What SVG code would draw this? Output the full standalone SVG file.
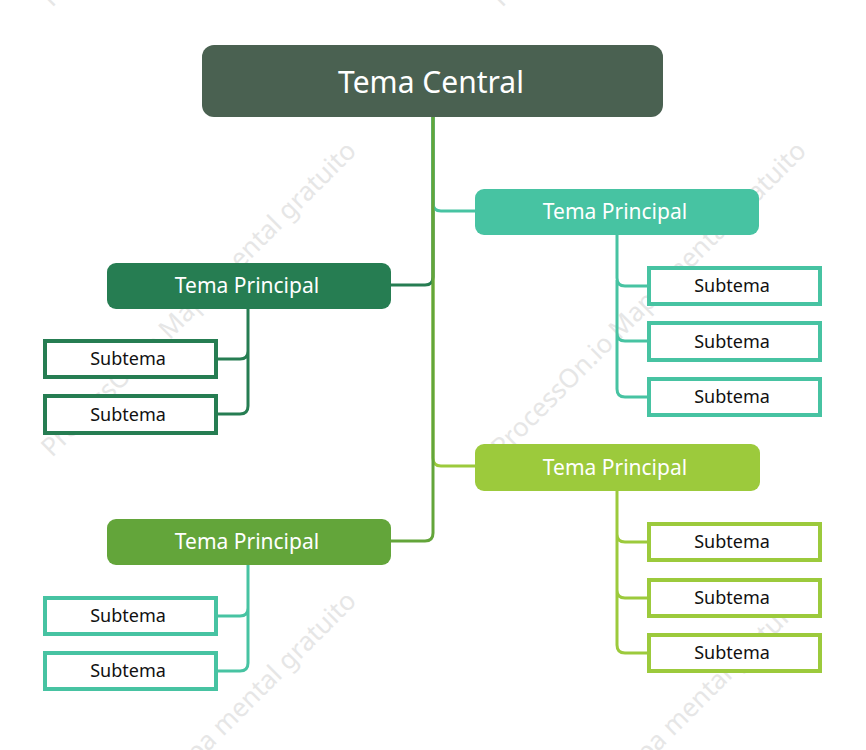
<svg xmlns="http://www.w3.org/2000/svg" width="866" height="750" viewBox="0 0 866 750">
<style>
.wm{font-family:"Noto Sans","Open Sans",sans-serif;font-size:26px;fill:#e6e6e6}
.main{font-family:"Noto Sans","Open Sans",sans-serif;font-size:21px;fill:#ffffff;text-anchor:middle}
.sub{font-family:"Noto Sans","Open Sans",sans-serif;font-size:18px;fill:#111111;text-anchor:middle}
.subbox{fill:#ffffff;stroke-width:4}
.c{fill:none;stroke-width:3}
</style>
<rect width="866" height="750" fill="#ffffff"/>
<g id="watermarks">
<text class="wm" transform="translate(52,458) rotate(-45)">ProcessOn.io Mapa mental gratuito</text>
<text class="wm" transform="translate(502,458) rotate(-45)">ProcessOn.io Mapa mental gratuito</text>
<text class="wm" transform="translate(52,908) rotate(-45)">ProcessOn.io Mapa mental gratuito</text>
<text class="wm" transform="translate(502,908) rotate(-45)">ProcessOn.io Mapa mental gratuito</text>
<text class="wm" transform="translate(52,8) rotate(-45)">ProcessOn.io Mapa mental gratuito</text>
<text class="wm" transform="translate(502,8) rotate(-45)">ProcessOn.io Mapa mental gratuito</text>
</g>
<g id="connectors">
<path class="c" stroke="#9cca3c" d="M433,116 V458 Q433,466 441,466 H475"/>
<path class="c" stroke="#267d52" d="M433,116 V277 Q433,285 425,285 H390"/>
<path class="c" stroke="#47c3a2" d="M433,116 V203 Q433,211 441,211 H475"/>
<path class="c" stroke="#63a53a" d="M433,116 V533 Q433,541 425,541 H390"/>
<path class="c" stroke="#47c3a2" d="M617,235 V278 Q617,286 625,286 H648 M617,280 V333 Q617,341 625,341 H648 M617,330 V389 Q617,397 625,397 H648"/>
<path class="c" stroke="#9cca3c" d="M617,491 V534 Q617,542 625,542 H648 M617,530 V590 Q617,598 625,598 H648 M617,590 V645 Q617,653 625,653 H648"/>
<path class="c" stroke="#267d52" d="M248,309 V351 Q248,359 240,359 H217 M248,350 V406 Q248,414 240,414 H217"/>
<path class="c" stroke="#47c3a2" d="M248,565 V608 Q248,616 240,616 H217 M248,600 V663 Q248,671 240,671 H217"/>
</g>
<g id="central">
<rect x="202" y="45" width="461" height="72" rx="12" fill="#4a6151"/>
<text x="431" y="93" font-family="Noto Sans, Open Sans, sans-serif" font-size="30" fill="#ffffff" text-anchor="middle">Tema Central</text>
</g>
<g id="main-right-1">
<rect x="475" y="189" width="284" height="46" rx="9" fill="#47c3a2"/>
<text class="main" x="615" y="219">Tema Principal</text>
</g>
<g id="main-left-1">
<rect x="107" y="263" width="284" height="46" rx="9" fill="#267d52"/>
<text class="main" x="247" y="293">Tema Principal</text>
</g>
<g id="main-right-2">
<rect x="475" y="444" width="285" height="47" rx="9" fill="#9cca3c"/>
<text class="main" x="615" y="475">Tema Principal</text>
</g>
<g id="main-left-2">
<rect x="107" y="519" width="284" height="46" rx="9" fill="#63a53a"/>
<text class="main" x="247" y="549">Tema Principal</text>
</g>
<g id="sub-l1-1"><rect class="subbox" stroke="#267d52" x="45" y="341" width="171" height="36"/><text class="sub" x="128" y="365">Subtema</text></g>
<g id="sub-l1-2"><rect class="subbox" stroke="#267d52" x="45" y="396" width="171" height="37"/><text class="sub" x="128" y="421">Subtema</text></g>
<g id="sub-r1-1"><rect class="subbox" stroke="#47c3a2" x="649" y="268" width="171" height="36"/><text class="sub" x="732" y="292">Subtema</text></g>
<g id="sub-r1-2"><rect class="subbox" stroke="#47c3a2" x="649" y="323" width="171" height="37"/><text class="sub" x="732" y="348">Subtema</text></g>
<g id="sub-r1-3"><rect class="subbox" stroke="#47c3a2" x="649" y="379" width="171" height="36"/><text class="sub" x="732" y="403">Subtema</text></g>
<g id="sub-r2-1"><rect class="subbox" stroke="#9cca3c" x="649" y="524" width="171" height="36"/><text class="sub" x="732" y="548">Subtema</text></g>
<g id="sub-r2-2"><rect class="subbox" stroke="#9cca3c" x="649" y="580" width="171" height="36"/><text class="sub" x="732" y="604">Subtema</text></g>
<g id="sub-r2-3"><rect class="subbox" stroke="#9cca3c" x="649" y="635" width="171" height="36"/><text class="sub" x="732" y="659">Subtema</text></g>
<g id="sub-l2-1"><rect class="subbox" stroke="#47c3a2" x="45" y="598" width="171" height="36"/><text class="sub" x="128" y="622">Subtema</text></g>
<g id="sub-l2-2"><rect class="subbox" stroke="#47c3a2" x="45" y="653" width="171" height="36"/><text class="sub" x="128" y="677">Subtema</text></g>
</svg>
